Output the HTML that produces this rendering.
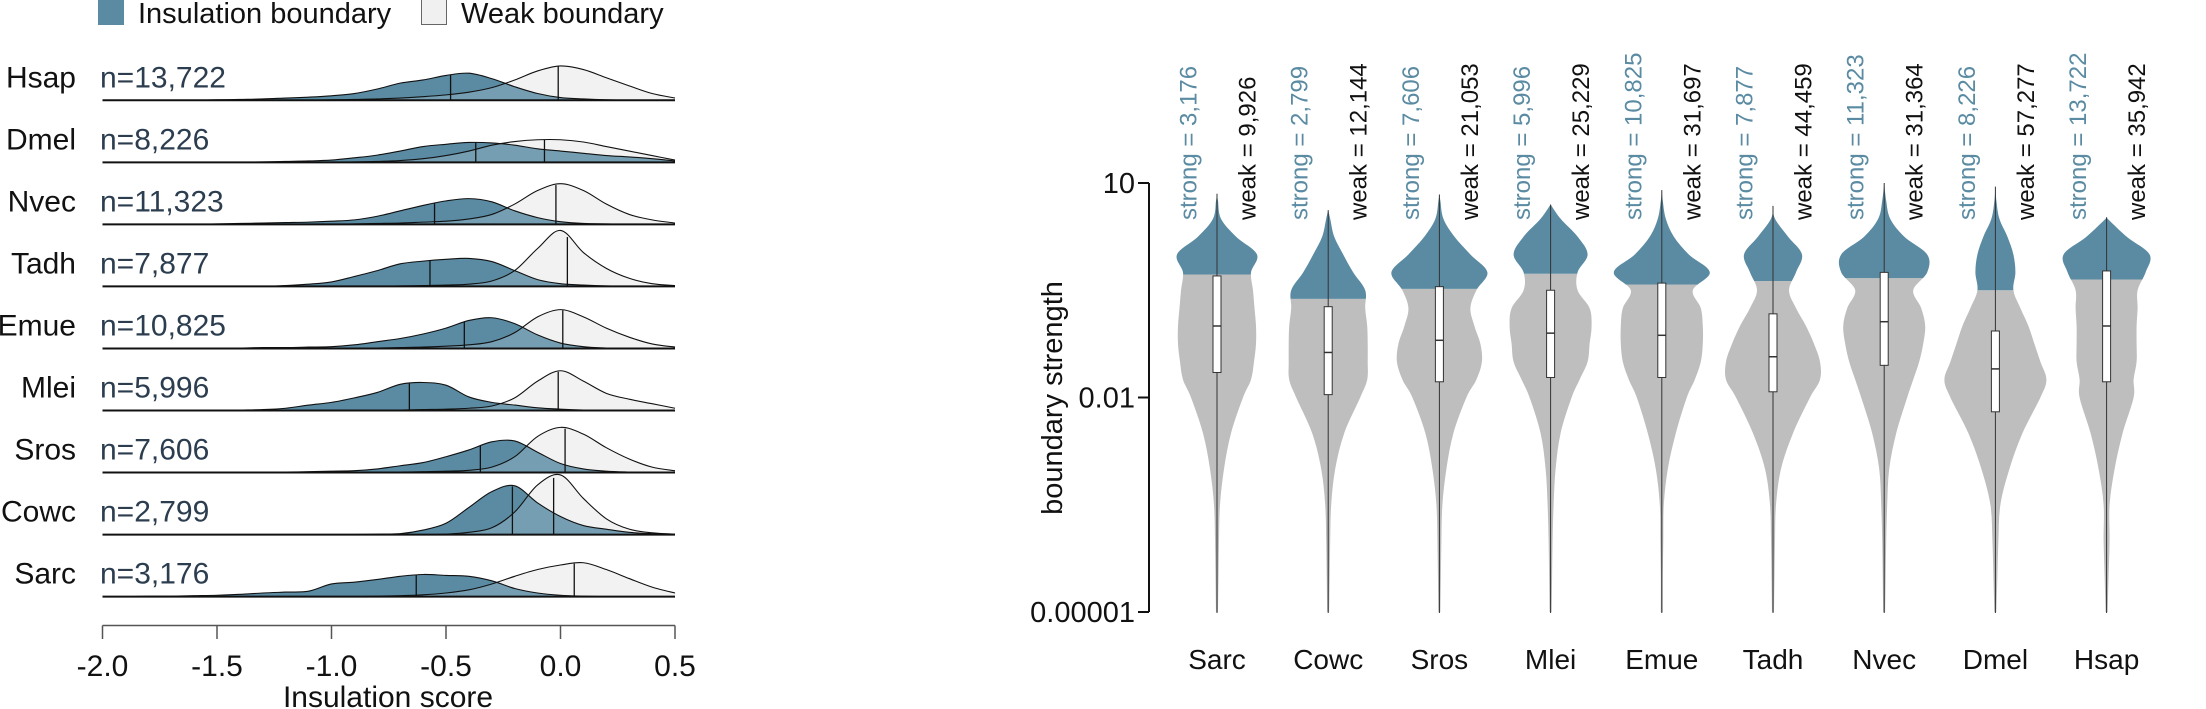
<!DOCTYPE html>
<html><head><meta charset="utf-8">
<style>
html,body{margin:0;padding:0;background:#fff;}
svg{display:block;font-family:"Liberation Sans",Arial,sans-serif;}
</style></head>
<body>
<svg id="chart" width="2206" height="709" viewBox="0 0 2206 709" xmlns="http://www.w3.org/2000/svg">
  <g id="left"></g>
  <g id="right"></g>
</svg>
<script>
// ---------- LEFT PANEL DATA ----------
const ridgeSpecies = ["Hsap","Dmel","Nvec","Tadh","Emue","Mlei","Sros","Cowc","Sarc"];
const ridgeCounts = ["n=13,722","n=8,226","n=11,323","n=7,877","n=10,825","n=5,996","n=7,606","n=2,799","n=3,176"];
const gridScores = [-2.0,-1.9,-1.8,-1.7,-1.6,-1.5,-1.4,-1.3,-1.2,-1.1,-1.0,-0.9,-0.8,-0.7,-0.6,-0.5,-0.4,-0.3,-0.2,-0.1,0.0,0.1,0.2,0.3,0.4,0.5];
const strongDensity = [
 [0,0,0,0,0,1,2,3,5,7,10,15,25,38,45,55,60,48,30,15,6,3,1,0,0,0],
 [0,0,0,0,0,0,0,1,2,3,5,10,16,25,35,40,44,43,38,30,25,20,15,12,8,3],
 [0,0,0,0,0,1,2,3,4,5,7,10,18,30,42,52,57,50,30,15,6,2,1,0,0,0],
 [0,0,0,0,0,0,0,0,2,5,10,22,35,50,56,60,62,55,35,15,6,3,1,0,0,0],
 [0,0,0,0,0,1,1,2,2,3,4,8,15,22,32,45,62,68,55,30,12,4,1,0,0,0],
 [0,0,0,0,0,0,1,2,5,12,18,28,40,58,62,56,30,18,12,6,3,1,0,0,0,0],
 [0,0,0,0,0,0,0,1,1,2,3,4,8,15,22,35,50,68,70,45,20,8,3,1,0,0],
 [0,0,0,0,0,0,0,0,0,0,0,0,1,2,10,25,60,95,108,70,40,20,12,5,2,1],
 [0,0,1,1,2,3,5,8,10,12,28,32,38,45,49,47,45,35,18,8,3,1,0,0,0,0]
];
const weakDensity = [
 [0,0,0,0,0,0,0,0,0,0,1,2,3,5,8,12,18,28,45,65,76,68,50,32,15,5],
 [0,0,0,0,0,0,0,0,0,0,0,1,2,4,8,15,25,38,46,50,50,45,35,25,15,5],
 [0,0,0,0,0,0,0,0,0,0,0,1,2,3,5,7,12,22,45,75,90,75,45,22,10,3],
 [0,0,0,0,0,0,0,0,0,0,0,0,0,1,2,3,5,12,35,84,124,75,40,18,6,2],
 [0,0,0,0,0,0,0,0,0,0,0,0,1,2,3,5,8,15,35,70,86,70,45,25,10,3],
 [0,0,0,0,0,0,0,0,0,0,0,0,0,1,2,3,5,10,28,65,88,65,38,25,15,5],
 [0,0,0,0,0,0,0,0,0,0,0,0,0,1,2,3,5,12,35,80,100,85,55,30,12,4],
 [0,0,0,0,0,0,0,0,0,0,0,0,0,0,0,1,5,15,50,110,132,80,35,12,4,1],
 [0,0,0,0,0,0,0,0,0,0,0,0,1,2,4,8,15,28,45,60,70,75,60,40,21,8]
];
const strongMedian = [-0.48,-0.37,-0.55,-0.57,-0.42,-0.66,-0.35,-0.21,-0.63];
const weakMedian = [-0.01,-0.07,-0.02,0.03,0.01,-0.01,0.02,-0.03,0.06];
const xTicks = [-2.0,-1.5,-1.0,-0.5,0.0,0.5];
const xTickLabels = ["-2.0","-1.5","-1.0","-0.5","0.0","0.5"];

// ---------- RIGHT PANEL DATA ----------
const violinSpecies = ["Sarc","Cowc","Sros","Mlei","Emue","Tadh","Nvec","Dmel","Hsap"];
const strongN = ["3,176","2,799","7,606","5,996","10,825","7,877","11,323","8,226","13,722"];
const weakN = ["9,926","12,144","21,053","25,229","31,697","44,459","31,364","57,277","35,942"];
const logLevels = [1,0.75,0.5,0.25,0,-0.25,-0.5,-0.75,-1,-1.25,-1.5,-1.75,-2,-2.5,-3,-3.5,-4,-4.5,-5];
const violinWidths = [
 [0,1,4,19,40,34,36,37.5,39,39,37,34,26,14,7,3,2,1.5,1],
 [0,0,2,6,15,25,37,37,39,39.5,39.5,39,32,16,7,3,2,1.5,1],
 [0,1,4,15,31,48,37,31,35,41,42.5,37,27,14,7,3,2,1.5,1],
 [0,0,10,27,37,27,27,39,41,39,37,29,21,10,5,3,2,1.5,1],
 [0,1,4,12,27,48,31,39,41,41,39,33,25,14,6,2,1.5,1,1],
 [0,0,2,15,29,23,16,23,33,41,47,47,37,20,8,3,2,1.5,1],
 [0,2,6,20,43,43,29,37,41,39,35,29,23,12,5,3,2,1.5,1],
 [0,1,4,12,18,20,18,25,33,39,45,51,45,27,14,5,3,2,1],
 [0,0,1,20,43,39,31,31,30,30,30,27,27,16,8,3,3,2,1]
];
const violinTop = [0.85,0.62,0.84,0.7,0.9,0.68,1.0,0.95,0.52];
const threshold = [-0.28,-0.62,-0.48,-0.27,-0.42,-0.37,-0.33,-0.5,-0.35];
const boxQ1 = [-1.65,-1.96,-1.78,-1.72,-1.72,-1.92,-1.55,-2.2,-1.78];
const boxMed = [-1.0,-1.37,-1.2,-1.1,-1.13,-1.43,-0.94,-1.6,-1.0];
const boxQ3 = [-0.3,-0.73,-0.45,-0.5,-0.4,-0.83,-0.25,-1.07,-0.23];
const yTickLogs = [1,-2,-5];
const yTickLabels = ["10","0.01","0.00001"];

const NS="http://www.w3.org/2000/svg";
function mk(tag, parent, attrs){const e=document.createElementNS(NS,tag);for(const k in attrs)e.setAttribute(k,attrs[k]);parent.appendChild(e);return e;}

function smooth(pts){
  let d="M"+pts[0][0].toFixed(2)+","+pts[0][1].toFixed(2);
  for(let i=0;i<pts.length-1;i++){
    const p0=pts[i-1]||pts[i],p1=pts[i],p2=pts[i+1],p3=pts[i+2]||p2;
    const c1=[p1[0]+(p2[0]-p0[0])/6,p1[1]+(p2[1]-p0[1])/6];
    const c2=[p2[0]-(p3[0]-p1[0])/6,p2[1]-(p3[1]-p1[1])/6];
    d+=" C"+c1[0].toFixed(2)+","+c1[1].toFixed(2)+" "+c2[0].toFixed(2)+","+c2[1].toFixed(2)+" "+p2[0].toFixed(2)+","+p2[1].toFixed(2);
  }
  return d;
}

// ---------- LEFT ----------
const L=document.getElementById('left');
const xS = v => 102.5 + (v+2)*229;
const rowBase = i => 100.3 + i*62.04;
const dS = d => d/2.214;
const BLUE="#5a8ba3";

let r=mk('rect',L,{x:98,y:-2,width:26,height:27,fill:BLUE});


let t=mk('text',L,{x:138,y:23,'font-size':29,fill:'#111'});t.textContent="Insulation boundary";


r=mk('rect',L,{x:421.5,y:-1.5,width:25,height:26,fill:'#f0f0f0',stroke:'#666','stroke-width':1});


t=mk('text',L,{x:461,y:23,'font-size':29,fill:'#111'});t.textContent="Weak boundary";



function densPts(arr,base){ return arr.map((d,k)=>[xS(gridScores[k]),base-dS(d)]); }
function interpH(arr,v){
  const f=(v-gridScores[0])/0.1;const k=Math.floor(f);const a=f-k;
  const d=(arr[k]||0)*(1-a)+(arr[k+1]||0)*a;return dS(d);
}
ridgeSpecies.forEach((sp,i)=>{
  const base=rowBase(i);
  const g=mk('g',L,{});
  
  
  const x0=xS(gridScores[0]),x1=xS(gridScores[gridScores.length-1]);
  const wp=smooth(densPts(weakDensity[i],base));
  const sp2=smooth(densPts(strongDensity[i],base));
  const closeP=` L${x1},${base} L${x0},${base} Z`;
  let p=mk('path',g,{d:wp+closeP,fill:'#f0f0f0'});
  
  
  p=mk('path',g,{d:sp2+closeP,fill:BLUE});
  
  
  p=mk('path',g,{d:wp+closeP,fill:'#ffffff','fill-opacity':0.17});
  
  
  p=mk('path',g,{d:sp2,fill:'none',stroke:'#111','stroke-width':1.1});
  
  
  p=mk('path',g,{d:wp,fill:'none',stroke:'#111','stroke-width':1.1});
  
  
  const sm=strongMedian[i],wm=weakMedian[i];
  let ln=mk('line',g,{x1:xS(sm),x2:xS(sm),y1:base,y2:base-interpH(strongDensity[i],sm),stroke:'#111','stroke-width':1.3});
  
  
  ln=mk('line',g,{x1:xS(wm),x2:xS(wm),y1:base,y2:base-interpH(weakDensity[i],wm),stroke:'#111','stroke-width':1.3});
  
  
  ln=mk('line',g,{x1:x0,x2:x1,y1:base,y2:base,stroke:'#111','stroke-width':2});
  
  
  let tx=mk('text',g,{x:76,y:base-13,'font-size':30,'text-anchor':'end',fill:'#111'});tx.textContent=sp;
  
  
  tx=mk('text',g,{x:100,y:base-13,'font-size':30,fill:'#2b3d4f'});tx.textContent=ridgeCounts[i];
  
  
});
let ax=mk('line',L,{x1:xS(-2),x2:xS(0.5),y1:625.5,y2:625.5,stroke:'#555','stroke-width':1.5});


xTicks.forEach((v,k)=>{
  const tk=mk('line',L,{x1:xS(v),x2:xS(v),y1:625.5,y2:639,stroke:'#555','stroke-width':1.5});
  
  
  const tl=mk('text',L,{x:xS(v),y:676,'font-size':30,'text-anchor':'middle',fill:'#111'});tl.textContent=xTickLabels[k];
  
  
});
t=mk('text',L,{x:388,y:707,'font-size':30,'text-anchor':'middle',fill:'#111'});t.textContent="Insulation score";



// ---------- RIGHT ----------
const R=document.getElementById('right');
const yS = l => 183 + (1-l)*71.5;
const xV = i => 1217 + i*111.2;
const GREY="#bebebe";
const defs=mk('defs',R,{});
ax=mk('line',R,{x1:1149,x2:1149,y1:yS(1),y2:yS(-5),stroke:'#111','stroke-width':2});


yTickLogs.forEach((l,k)=>{
  const tk=mk('line',R,{x1:1138,x2:1149,y1:yS(l),y2:yS(l),stroke:'#111','stroke-width':2});
  
  
  const tl=mk('text',R,{x:1135,y:yS(l)+10,'font-size':29,'text-anchor':'end',fill:'#111'});tl.textContent=yTickLabels[k];
  
  
});
t=mk('text',R,{x:0,y:0,'font-size':29,'text-anchor':'middle',fill:'#111',transform:'translate(1062,398) rotate(-90)'});t.textContent="boundary strength";



violinSpecies.forEach((sp,i)=>{
  const cx=xV(i);
  const g=mk('g',R,{});
  
  
  const top=violinTop[i];
  const right=[[cx,yS(top)]];
  logLevels.forEach((l,k)=>{ if(l<top) right.push([cx+violinWidths[i][k],yS(l)]); });
  const left=right.map(p=>[2*cx-p[0],p[1]]).reverse();
  const full=smooth(right)+smooth(left).replace(/^M/,' L')+" Z";
  const yT=yS(threshold[i]);
  const cpB=mk('clipPath',defs,{id:'cb'+i});mk('rect',cpB,{x:cx-80,y:0,width:160,height:yT});
  const cpG=mk('clipPath',defs,{id:'cg'+i});mk('rect',cpG,{x:cx-80,y:yT,width:160,height:709-yT});
  let p=mk('path',g,{d:full,fill:GREY,'clip-path':'url(#cg'+i+')'});
  
  
  p=mk('path',g,{d:full,fill:BLUE,'clip-path':'url(#cb'+i+')'});
  
  
  let ln=mk('line',g,{x1:cx,x2:cx,y1:yS(top),y2:yS(-5)+1,stroke:'#333','stroke-width':1});
  
  
  const bx=mk('rect',g,{x:cx-4,y:yS(boxQ3[i]),width:8,height:yS(boxQ1[i])-yS(boxQ3[i]),fill:'#fff',stroke:'#333','stroke-width':1});
  
  
  ln=mk('line',g,{x1:cx-4,x2:cx+4,y1:yS(boxMed[i]),y2:yS(boxMed[i]),stroke:'#333','stroke-width':1.5});
  
  
  let tx=mk('text',g,{x:0,y:0,'font-size':24,fill:BLUE,transform:`translate(${cx-20.5},220) rotate(-90)`});tx.textContent="strong = "+strongN[i];
  
  
  tx=mk('text',g,{x:0,y:0,'font-size':24,fill:'#111',transform:`translate(${cx+38.5},220) rotate(-90)`});tx.textContent="weak = "+weakN[i];
  
  
  tx=mk('text',g,{x:cx,y:669,'font-size':28,'text-anchor':'middle',fill:'#111'});tx.textContent=sp;
  
  
});
</script>
</body></html>
